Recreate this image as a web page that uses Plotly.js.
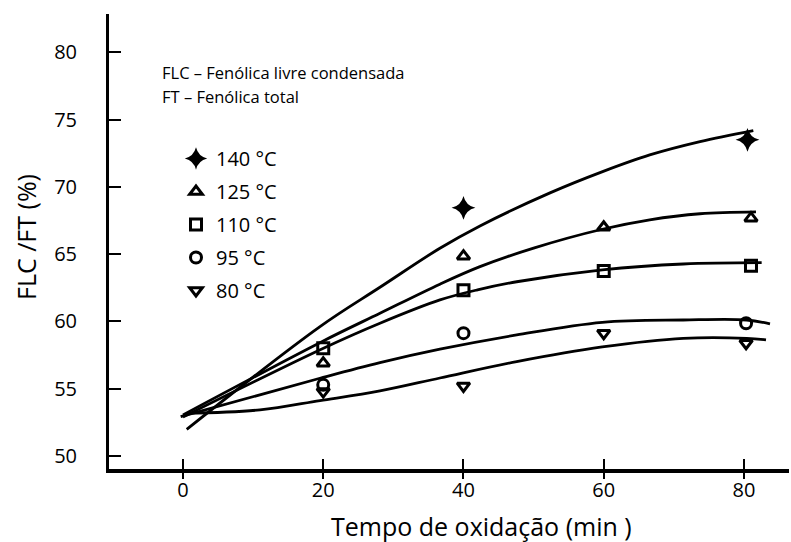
<!DOCTYPE html>
<html>
<head>
<meta charset="utf-8">
<script src="https://cdn.plot.ly/plotly-3.0.1.min.js"></script>
<style>
html, body { margin: 0; padding: 0; background: #ffffff; }
#chart { width: 791px; height: 542px; }
</style>
</head>
<body>
<div id="chart"></div>
<script>
// ---------- data ----------
const seriesNames = ['140 °C', '125 °C', '110 °C', '95 °C', '80 °C'];
const xTickValues = [0, 20, 40, 60, 80];
const yTickValues = [50, 55, 60, 65, 70, 75, 80];

// measured points (tempo de oxidação, FLC/FT %)
const obs140X = [40, 80.5];
const obs140Y = [68.44, 73.49];
const obs125X = [20, 40, 60, 81];
const obs125Y = [56.90, 64.85, 67.00, 67.67];
const obs110X = [20, 40, 60, 81];
const obs110Y = [58.01, 62.32, 63.75, 64.13];
const obs95X  = [20, 40, 80.3];
const obs95Y  = [55.29, 59.13, 59.87];
const obs80X  = [20, 40, 60, 80.3];
const obs80Y  = [54.79, 55.21, 59.13, 58.38];

// fitted curves
const fit140X = [0.53, 19.54, 28.09, 36.64, 42.35, 52.34, 59.84, 66.56, 73.73, 81.33];
const fit140Y = [51.99, 59.62, 62.54, 65.44, 67.10, 69.55, 71.13, 72.37, 73.36, 74.18];
const fit125X = [0.0, 19.8, 28.09, 36.64, 42.35, 50.0, 59.79, 66.56, 73.73, 81.71];
const fit125Y = [53.06, 58.50, 60.61, 62.77, 64.07, 65.45, 66.85, 67.55, 68.00, 68.14];
const fit110X = [0.0, 19.8, 28.09, 36.64, 42.0, 47.59, 59.79, 71.34, 82.52];
const fit110Y = [52.91, 57.96, 59.87, 61.60, 62.35, 62.95, 63.83, 64.27, 64.37];
const fit95X  = [-0.33, 19.54, 28.09, 36.64, 47.59, 59.79, 71.34, 80.38, 83.71];
const fit95Y  = [52.93, 55.78, 56.94, 57.94, 59.00, 59.94, 60.11, 60.11, 59.82];
const fit80X  = [0.43, 10.98, 19.54, 28.09, 36.64, 47.59, 59.79, 71.34, 80.38, 83.14];
const fit80Y  = [53.17, 53.43, 54.12, 54.84, 55.80, 57.02, 58.11, 58.75, 58.75, 58.63];

// ---------- styling ----------
const FONT = 'Open Sans, Noto Sans, sans-serif';
const BLACK = '#000000';
const obsX = [obs140X, obs125X, obs110X, obs95X, obs80X];
const obsY = [obs140Y, obs125Y, obs110Y, obs95Y, obs80Y];
const fitX = [fit140X, fit125X, fit110X, fit95X, fit80X];
const fitY = [fit140Y, fit125Y, fit110Y, fit95Y, fit80Y];
const markerStyles = [
  {symbol: 'star-diamond', size: 17, color: BLACK, line: {width: 0}},
  {symbol: 'triangle-up-open', size: 11, color: BLACK, line: {width: 3, color: BLACK}},
  {symbol: 'square-open', size: 11, color: BLACK, line: {width: 3, color: BLACK}},
  {symbol: 'circle-open', size: 11, color: BLACK, line: {width: 3, color: BLACK}},
  {symbol: 'triangle-down-open', size: 11, color: BLACK, line: {width: 3, color: BLACK}}
];

const traces = [];
seriesNames.forEach((name, i) => {
  traces.push({
    type: 'scatter', mode: 'lines', x: fitX[i], y: fitY[i],
    line: {color: BLACK, width: 2.8, shape: 'spline', smoothing: 1},
    showlegend: false, hoverinfo: 'skip'
  });
});
seriesNames.forEach((name, i) => {
  traces.push({
    type: 'scatter', mode: 'markers', name: name, x: obsX[i], y: obsY[i],
    marker: markerStyles[i], legendgroup: 'g' + i, showlegend: true
  });
});
// empty trace so the overlaid tick axis (ticks crossing the x axis line) is drawn
traces.push({type: 'scatter', mode: 'markers', x: [], y: [], xaxis: 'x2', yaxis: 'y',
             showlegend: false, hoverinfo: 'skip'});

const W = 791, H = 542;
const L = 109, R = 2, T = 14, B = 73;
const pw = W - L - R, ph = H - T - B;
const px2paperX = (px) => (px - L) / pw;
const py2paperY = (py) => (H - B - py) / ph;

const layout = {
  width: W, height: H,
  margin: {l: L, r: R, t: T, b: B, pad: 0, autoexpand: false},
  paper_bgcolor: '#ffffff', plot_bgcolor: '#ffffff',
  font: {family: FONT, color: BLACK},
  showlegend: true,
  legend: {
    x: px2paperX(176), y: py2paperY(139), xanchor: 'left', yanchor: 'top',
    font: {family: FONT, size: 20, color: BLACK},
    bgcolor: 'rgba(0,0,0,0)', borderwidth: 0,
    traceorder: 'grouped', tracegroupgap: 4, itemwidth: 30
  },
  xaxis: {
    range: [-10.55, 86.42],
    tickvals: xTickValues, ticktext: xTickValues.map(String),
    ticks: 'outside', ticklen: 6, tickwidth: 2, tickcolor: BLACK,
    showline: true, linewidth: 3.5, linecolor: BLACK,
    showgrid: false, zeroline: false,
    tickfont: {family: FONT, size: 20, color: BLACK},
    ticklabelstandoff: -6
  },
  xaxis2: {
    overlaying: 'x', matches: 'x', anchor: 'y', side: 'bottom',
    range: [-10.55, 86.42],
    tickvals: xTickValues, ticks: 'inside', ticklen: 10, tickwidth: 2, tickcolor: BLACK,
    showticklabels: false, showline: false, showgrid: false, zeroline: false
  },
  yaxis: {
    range: [49.04, 82.84],
    tickvals: yTickValues, ticktext: yTickValues.map(String),
    ticks: 'inside', ticklen: 12, tickwidth: 2, tickcolor: BLACK,
    showline: true, linewidth: 3, linecolor: BLACK,
    showgrid: false, zeroline: false,
    tickfont: {family: FONT, size: 20, color: BLACK},
    ticklabelstandoff: 25
  },
  annotations: [
    {text: 'FLC – Fenólica livre condensada', xref: 'paper', yref: 'paper',
     x: px2paperX(160), y: py2paperY(72.7), xanchor: 'left', yanchor: 'middle',
     showarrow: false, font: {family: FONT, size: 16.5, color: BLACK}},
    {text: 'FT – Fenólica total', xref: 'paper', yref: 'paper',
     x: px2paperX(160), y: py2paperY(96.7), xanchor: 'left', yanchor: 'middle',
     showarrow: false, font: {family: FONT, size: 16.5, color: BLACK}},
    {text: 'Tempo de oxidação (min )', xref: 'paper', yref: 'paper',
     x: px2paperX(481.5), y: py2paperY(526), xanchor: 'center', yanchor: 'middle',
     showarrow: false, font: {family: FONT, size: 25, color: BLACK}},
    {text: 'FLC /FT (%)', xref: 'paper', yref: 'paper', textangle: -90,
     x: px2paperX(26), y: py2paperY(237), xanchor: 'center', yanchor: 'middle',
     showarrow: false, font: {family: FONT, size: 25, color: BLACK}}
  ]
};

Plotly.newPlot('chart', traces, layout, {staticPlot: true, displayModeBar: false});
</script>
</body>
</html>
